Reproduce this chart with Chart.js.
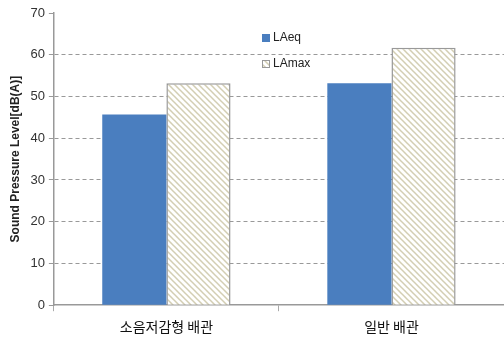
<!DOCTYPE html>
<html>
<head>
<meta charset="utf-8">
<script src="https://cdn.jsdelivr.net/npm/chart.js@4"></script>
<style>
  html, body { margin: 0; padding: 0; background: #fff; }
  #wrap { width: 504px; height: 338px; }
</style>
</head>
<body>
<div id="wrap"><canvas id="chart"></canvas></div>
<script>
// 배관 종류별 소음 레벨
const categories = ["소음저감형 배관", "일반 배관"];
const laeq = [45.7, 53.2];
const lamax = [53.2, 61.7];
const seriesNames = ["LAeq", "LAmax"];
const yTicks = [0, 10, 20, 30, 40, 50, 60, 70];

// 빗금 패턴 (LAmax)
function hatchPattern() {
    const c = document.createElement("canvas");
    c.width = 6;
    c.height = 6;
    const g = c.getContext("2d");
    g.fillStyle = "#ffffff";
    g.fillRect(0, 0, 6, 6);
    g.strokeStyle = "#d3ceb3";
    g.lineWidth = 1.5;
    g.beginPath();
    g.moveTo(-1, -1); g.lineTo(7, 7);
    g.moveTo(-4, 2); g.lineTo(4, 10);
    g.moveTo(2, -4); g.lineTo(10, 4);
    g.stroke();
    return g.createPattern(c, "repeat");
}
const hatch = hatchPattern();

// 플롯 안쪽 범례
const innerLegend = {
    id: "innerLegend",
    afterDraw(chart) {
        const g = chart.ctx;
        const x = 262, ys = [38, 64];
        g.save();
        g.font = "12px 'Liberation Sans', Arial, sans-serif";
        g.textBaseline = "middle";
        chart.data.datasets.forEach((ds, i) => {
            const y = ys[i];
            g.fillStyle = ds.backgroundColor;
            g.fillRect(x, y - 4, 8, 8);
            if (i === 1) {
                g.strokeStyle = "#999";
                g.lineWidth = 1;
                g.strokeRect(x + 0.5, y - 3.5, 7, 7);
            }
            g.fillStyle = "#222";
            g.fillText(ds.label, x + 11, y);
        });
        g.restore();
    }
};

new Chart(document.getElementById("chart"), {
    type: "bar",
    data: {
        labels: categories,
        datasets: [
            {
                label: seriesNames[0],
                data: laeq,
                backgroundColor: "#4a7ebf",
                borderWidth: 0,
            },
            {
                label: seriesNames[1],
                data: lamax,
                backgroundColor: hatch,
                borderColor: "#999999",
                borderWidth: 1.5,
                borderSkipped: "bottom",
            },
        ],
    },
    options: {
        responsive: true,
        maintainAspectRatio: false,
        animation: false,
        layout: { padding: { top: 13, right: -3, left: 8, bottom: -4 } },
        datasets: { bar: { barPercentage: 1, categoryPercentage: 0.57 } },
        plugins: {
            legend: { display: false },
            tooltip: { enabled: false },
        },
        scales: {
            x: {
                grid: {
                    drawOnChartArea: false,
                    drawTicks: true,
                    tickLength: 6,
                    tickColor: "#aaa",
                },
                border: { color: "#999", width: 1.5 },
                ticks: {
                    color: "#111",
                    padding: 7,
                    font: { family: "'Noto Sans CJK KR', sans-serif", size: 14 },
                },
            },
            y: {
                min: 0,
                max: 70,
                afterBuildTicks(axis) {
                    axis.ticks = yTicks.map((v) => ({ value: v }));
                },
                grid: {
                    color: (c) => (c.tick && (c.tick.value === 70 || c.tick.value === 0) ? "rgba(0,0,0,0)" : "#999"),
                    tickColor: "#999",
                    tickLength: 5,
                    lineWidth: 1,
                },
                border: { color: "#999", width: 1.5, dash: [4, 3] },
                ticks: {
                    color: "#333",
                    padding: 4,
                    font: { family: "'Liberation Sans', Arial, sans-serif", size: 13 },
                },
                title: {
                    display: true,
                    text: "Sound Pressure Level[dB(A)]",
                    color: "#222",
                    padding: { top: 0, bottom: 4 },
                    font: { family: "'Liberation Sans', Arial, sans-serif", size: 12, weight: "bold" },
                },
            },
        },
    },
    plugins: [innerLegend],
});
</script>
</body>
</html>
